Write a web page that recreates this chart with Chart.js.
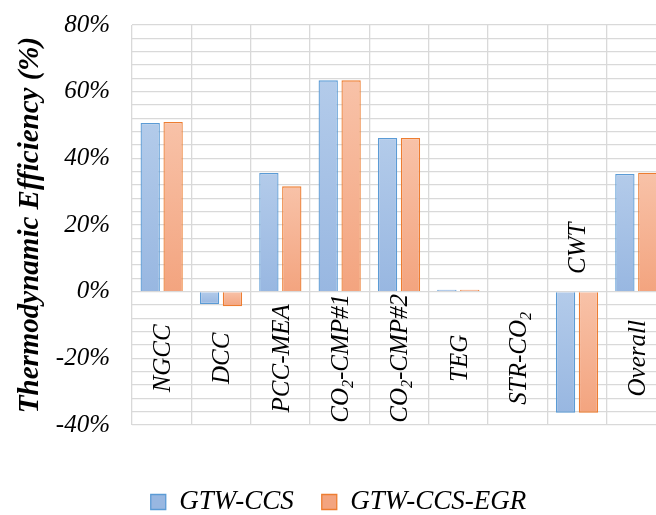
<!DOCTYPE html>
<html>
<head>
<meta charset="utf-8">
<script src="https://cdn.jsdelivr.net/npm/chart.js@4/dist/chart.umd.min.js"></script>
<style>
  html, body { margin: 0; padding: 0; background: #fff; overflow: hidden; }
  #wrap { width: 672px; height: 515px; position: relative; }
</style>
</head>
<body>
<div id="wrap"><canvas id="chart"></canvas></div>
<script>
// Exergy (thermodynamic) efficiency of each unit, in percent
const categories = ['NGCC', 'DCC', 'PCC-MEA', 'CO₂-CMP#1', 'CO₂-CMP#2', 'TEG', 'STR-CO₂', 'CWT', 'Overall'];
const seriesNames = ['GTW-CCS', 'GTW-CCS-EGR'];
const gtwCcs    = [50.6, -3.7, 35.6, 63.4, 46.1, 0.6, 0, -36.3, 35.3];
const gtwCcsEgr = [50.9, -4.4, 31.6, 63.4, 46.1, 0.6, 0, -36.3, 35.7];
const yMin = -40, yMax = 80, yMinorStep = 4, yLabelStep = 20;

const SERIF = "'Liberation Serif', 'Times New Roman', serif";

// vertical gradient per bar: lighter at the top edge, deeper at the bottom edge
function barFill(light, mid, dark) {
  return (ctx) => {
    if (ctx.type !== 'data') return mid;
    const chart = ctx.chart;
    if (!chart.chartArea) return mid;
    const y = chart.scales.y;
    const p0 = y.getPixelForValue(0);
    const p1 = y.getPixelForValue(ctx.raw);
    const top = Math.min(p0, p1), bottom = Math.max(p0, p1);
    if (bottom - top < 1) return mid;
    const g = chart.ctx.createLinearGradient(0, top, 0, bottom);
    g.addColorStop(0, light);
    g.addColorStop(1, dark);
    return g;
  };
}

// category names written vertically inside the plot
const categoryLabels = {
  id: 'categoryLabels',
  afterDraw(chart) {
    const { ctx, scales: { x, y } } = chart;
    const size = 25;
    const main = `italic ${size}px ${SERIF}`;
    const sub = `italic ${Math.round(size * 0.65)}px ${SERIF}`;
    ctx.save();
    ctx.fillStyle = '#000';
    ctx.textBaseline = 'alphabetic';
    ctx.textAlign = 'left';
    categories.forEach((name, i) => {
      const low = Math.min(gtwCcs[i], gtwCcsEgr[i]);
      // labels sit in the lower band; a deep negative bar pushes its label above zero
      const anchor = low < -20 ? 13 : -20;
      const cx = x.getPixelForValue(i);
      const cy = y.getPixelForValue(anchor);
      const runs = name.split(/(₂)/).filter(Boolean).map(t =>
        t === '₂' ? { text: '2', font: sub, shift: size * 0.2 } : { text: t, font: main, shift: 0 });
      let total = 0;
      runs.forEach(r => { ctx.font = r.font; r.w = ctx.measureText(r.text).width; total += r.w; });
      ctx.translate(cx, cy);
      ctx.rotate(-Math.PI / 2);
      let pos = -total / 2;
      const base = size * 0.33;
      runs.forEach(r => {
        ctx.font = r.font;
        ctx.fillText(r.text, pos, base + r.shift);
        pos += r.w;
      });
      ctx.setTransform(1, 0, 0, 1, 0, 0);
    });
    ctx.restore();
  }
};

function draw() {
  new Chart(document.getElementById('chart'), {
    type: 'bar',
    data: {
      labels: categories,
      datasets: [
        {
          label: seriesNames[0],
          data: gtwCcs,
          backgroundColor: barFill('#b3cbea', '#a9c3e6', '#98b7e1'),
          borderColor: '#5b9bd5',
          borderWidth: 1.3,
          categoryPercentage: 0.772,
          barPercentage: 0.843
        },
        {
          label: seriesNames[1],
          data: gtwCcsEgr,
          backgroundColor: barFill('#f8c2a8', '#f6b496', '#f3a47f'),
          borderColor: '#ed7d31',
          borderWidth: 1.3,
          categoryPercentage: 0.772,
          barPercentage: 0.843
        }
      ]
    },
    options: {
      responsive: true,
      maintainAspectRatio: false,
      animation: false,
      layout: { padding: { top: 25, right: 6, bottom: -10.5, left: 11 } },
      plugins: {
        tooltip: { enabled: false },
        legend: {
          position: 'bottom',
          labels: {
            boxWidth: 15,
            boxHeight: 15,
            padding: 28,
            color: '#000',
            font: { family: SERIF, style: 'italic', size: 27 }
          }
        }
      },
      scales: {
        x: {
          grid: { color: '#d9d9d9', lineWidth: 1.3, offset: true, drawTicks: false },
          border: { display: false },
          ticks: { display: false },
          afterFit(scale) { scale.height = 35.5; }
        },
        y: {
          min: yMin,
          max: yMax,
          afterFit(scale) {
            scale.width = 121;
            // the end labels may overhang the plot edges freely
            scale.paddingTop = 0;
            scale.paddingBottom = 0;
          },
          grid: { color: '#d9d9d9', lineWidth: 1.3, drawTicks: false },
          border: { display: false },
          ticks: {
            stepSize: yMinorStep,
            autoSkip: false,
            padding: 22,
            color: '#000',
            font: { family: SERIF, style: 'italic', size: 25 },
            callback: (v) => (Math.round(v) % yLabelStep === 0 ? Math.round(v) + '%' : '')
          },
          title: {
            display: true,
            text: 'Thermodynamic Efficiency (%)',
            color: '#000',
            padding: { top: 2, bottom: 0 },
            font: { family: SERIF, style: 'italic', weight: 'bold', size: 29 }
          }
        }
      }
    },
    plugins: [categoryLabels]
  });
}

// make sure the serif faces are ready before the canvas text is painted
Promise.all([
  document.fonts.load(`italic 25px 'Liberation Serif'`),
  document.fonts.load(`italic bold 29px 'Liberation Serif'`)
]).catch(() => {}).then(draw);
</script>
</body>
</html>
